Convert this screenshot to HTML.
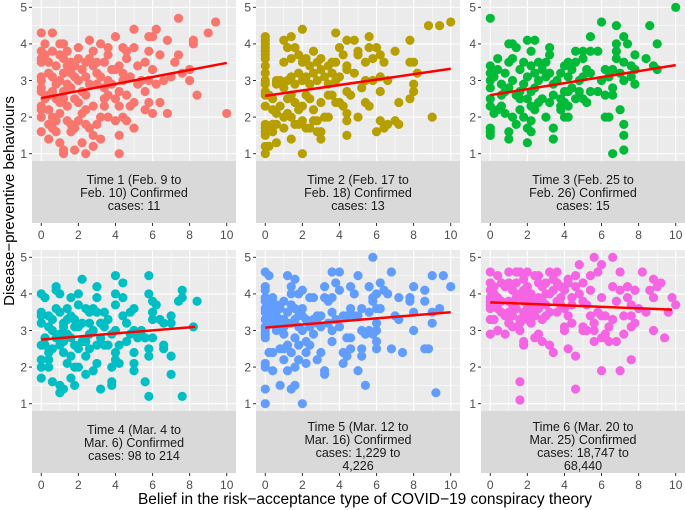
<!DOCTYPE html>
<html><head><meta charset="utf-8"><style>
html,body{margin:0;padding:0;background:#fff;}
svg{display:block;font-family:"Liberation Sans",sans-serif;}
</style></head><body>
<svg id="chart" width="685" height="510" viewBox="0 0 685 510" xmlns="http://www.w3.org/2000/svg">
<text x="0" y="0" transform="translate(14,201) rotate(-90)" text-anchor="middle" font-size="15" fill="#000">Disease−preventive behaviours</text>
<text x="365" y="504" text-anchor="middle" font-size="15.5" fill="#000">Belief in the risk−acceptance type of COVID−19 conspiracy theory</text>
</svg>
<script>
const xTicks=[0,2,4,6,8,10];
const yTicks=[1,2,3,4,5];
const colors=["#F8766D","#B79F00","#00BA38","#00BFC4","#619CFF","#F564E3"];
const stripLabels=[
["Time 1 (Feb. 9 to","Feb. 10) Confirmed","cases: 11"],
["Time 2 (Feb. 17 to","Feb. 18) Confirmed","cases: 13"],
["Time 3 (Feb. 25 to","Feb. 26) Confirmed","cases: 15"],
["Time 4 (Mar. 4 to","Mar. 6) Confirmed","cases: 98 to 214"],
["Time 5 (Mar. 12 to","Mar. 16) Confirmed","cases: 1,229 to","4,226"],
["Time 6 (Mar. 20 to","Mar. 25) Confirmed","cases: 18,747 to","68,440"]];
const fitStartX=[0,0,0,0,0,0];
const fitEndX=[10,10,10,8.3,10,9.8];
const fitStartY=[2.52,2.58,2.6,2.75,3.08,3.77];
const fitEndY=[3.48,3.32,3.42,3.1,3.5,3.57];
const time1=[[7.4,4.7],[9.4,4.6],[9,4.3],[0,4.3],[0.6,4.3],[5,4.4],[6.2,4.4],[5.8,4.2],[6,4.2],[4,4.2],[2.6,4.1],[6.8,4.1],[8.2,4.1],[8.2,4],[3.2,4],[1,4],[1.2,4],[2,3.9],[4.4,3.9],[5,3.9],[4.6,3.8],[5.8,3.8],[6.4,3.7],[7.4,3.7],[7.2,3.5],[5.6,3.5],[5.2,3.4],[8,3.3],[7.6,3.2],[8,3],[8.4,2.6],[10,2.1],[6.8,2.1],[6,2.1],[6.4,2.4],[5.8,2.4],[5,2.4],[5,1.7],[4.2,1.5],[4.2,1],[4,1.9],[4.6,1.9],[4.4,2],[3.6,2],[3.2,2],[3.2,1.4],[2.8,1.2],[2.8,1.5],[2.4,1],[2.2,1.3],[1.8,1.1],[1.2,1],[1.2,1.1],[1,1.3],[0.4,1.4],[0,1.6],[0,2],[0,2.2],[0,2.3],[0,2.7],[0,2.8],[0,3],[0,3.1],[0,3.5],[0,3.6],[0,3.8],[0.2,3.7],[0.4,3.5],[0.6,3.8],[0.8,3.4],[1,3.7],[1.2,3.6],[1.4,3.8],[1.6,3.5],[1.8,3.4],[2,3.6],[2.2,3.3],[2.4,3.5],[2.6,3.6],[2.8,3.4],[3,3.2],[3.4,3.5],[3.6,3.7],[3.8,3.3],[4,3.3],[4.4,3.2],[4.8,3.1],[5.4,3],[5.8,3],[6,3.3],[6.2,2.9],[6.6,3],[7,3.1],[2,3],[1,3],[1.4,2.9],[1.6,2.8],[2.2,2.7],[2.6,2.9],[3,2.9],[3.4,2.8],[3.8,2.9],[4.2,2.7],[4.6,2.6],[5.2,2.9],[5.6,2.7],[0.6,2.7],[0.8,2.5],[1,2.4],[1.2,2.5],[1.4,2.3],[1.8,2.5],[2,2.4],[2.4,2.6],[2.8,2.3],[3.4,2.3],[4,2.5],[4.2,2.3],[0.4,2.2],[0.6,2],[0.8,1.9],[1,2.1],[1.4,1.9],[1.6,1.8],[2,1.9],[2.4,1.8],[2.6,1.7],[3,1.8],[0.4,1.8],[0.6,1.7],[0.8,1.6],[1.6,1.6],[1.8,1.7],[2.2,2.1],[0.2,2.5],[0.4,2.6],[1.2,2.7],[1.8,3.1],[2.4,3.1],[3.2,3.1],[3.6,3],[4.4,3],[0.4,3.2],[0.6,3.1],[0.8,2.9],[1.2,3.2],[1.6,3.2],[2.8,3.8],[3.6,3.9],[1.4,3.4],[0.2,4],[2.4,2.2],[3.6,2.6],[4.8,2.3],[5.6,2.2],[4.6,3.6],[4.2,3.4],[3,3.5],[3.4,2.5]];
const time2=[[0,4.2],[0,4.1],[0,4],[0,3.9],[0,3.8],[0,3.7],[0,3.6],[0,3.4],[0,3.2],[0,3],[0,2.9],[0,2.7],[0,2.6],[0,2.3],[0,1.8],[0,1.7],[0,1.6],[0,1.5],[0,1.2],[0,1],[0.2,1.2],[0.4,1.6],[0.6,1.3],[0.4,1.8],[0.6,1.8],[0.4,2.2],[0.6,2.1],[0.8,2.3],[0.2,2.6],[0.4,2.5],[0.6,2.9],[0.8,3],[0.6,3],[1,1.7],[1,2],[1.2,2.1],[1.4,1.4],[1.4,2],[1.6,1.8],[1.8,1.8],[2,1.9],[2,1],[2.2,1.7],[2.4,1.7],[2.6,1.9],[2.8,1.6],[3,1.4],[3,1.6],[2.8,1.9],[3.2,2],[3.4,2],[1.2,2.5],[1.4,2.6],[1.6,2.4],[1.8,2.2],[2,2.3],[2.2,2.6],[2.4,2.5],[2.6,2.2],[3,2.4],[3.4,2.6],[3.6,2.6],[3.8,2.4],[4,2.4],[4.2,2.3],[4.4,2.1],[4.4,1.9],[4.4,1.5],[4.4,2.7],[4.6,2.6],[5,2],[5.4,2.4],[5.6,2.3],[5.2,2.8],[1,2.8],[1.2,3],[1.4,3.1],[1.6,2.9],[1.8,3.2],[2,3],[2.2,3.1],[2.4,2.9],[2.6,3.2],[2.8,3],[3,3.3],[3.2,3.1],[3.4,2.9],[3.6,3.2],[3.8,3],[4,3.1],[4.4,3.3],[4.8,3.2],[5.4,3],[5.8,3],[6.2,3.1],[6.6,3],[1,3.5],[1,4.1],[1.2,3.9],[1.4,4.2],[1.4,3.6],[1.6,3.9],[1.8,3.7],[2,4.4],[2,3.5],[2.2,3.6],[2.4,3.4],[2.6,3.8],[2.8,3.5],[3,3.6],[3.4,3.4],[3.6,3.5],[3.8,3.5],[3.8,4.3],[4,3.9],[4.2,3.7],[4.4,4.1],[4.4,3.4],[4.8,4.1],[5,3.7],[5,3.8],[5.6,3.9],[5.6,4.2],[5.4,3.5],[5.8,3.6],[6,3.9],[6.2,3.7],[6.4,3.5],[6.2,2.7],[6.2,1.9],[6,1.6],[6.4,1.7],[6.6,1.8],[7,1.9],[7.2,1.8],[7.2,2.4],[7,3.8],[7.8,4.1],[7.8,3.5],[8,3.5],[8,2.9],[8,2.7],[7.8,2.5],[8.2,3.2],[8.8,4.5],[9.4,4.5],[10,4.6],[9,2]];
const time3=[[0,4.7],[10,5],[6,4.6],[6.8,4.5],[8.6,4.5],[7.2,4.2],[5.4,4.2],[1,4],[1.2,4],[2,4.1],[2.4,4.1],[1.4,3.9],[2.2,3.8],[3.2,3.9],[3.2,3.7],[4.6,3.8],[5,3.8],[5.4,3.8],[5.8,3.8],[6.8,4],[6.8,3.8],[7.4,4],[9,4],[7.8,3.7],[8.4,3.6],[8.8,3.4],[9,3.3],[7.2,3.5],[7.6,3.4],[7.8,3.3],[6.8,3.6],[4.2,3.5],[4.6,3.5],[5,3.6],[5.2,3.3],[5.4,3.2],[6.2,3.3],[6.6,3.3],[6,3],[6.4,3.1],[7,3.2],[7.2,3],[7.6,3.1],[7.8,2.9],[6.6,2.8],[6.2,2.6],[6.6,2.6],[5.8,2.7],[5.4,2.7],[5,2.5],[5.2,2.4],[4.6,2.5],[4.8,2.7],[4.4,2.8],[4.2,2.7],[4,2.7],[3.8,2.5],[4,2.4],[3.8,2.3],[3.8,2.2],[4,2],[4.2,2],[3.4,1.7],[3.4,1.4],[3.2,2.4],[3.4,2.6],[3,2],[2.8,2.5],[2.6,2.4],[2.4,2.2],[2.2,1.9],[2,1.7],[2.2,1.6],[2,1.3],[1.8,2],[1.6,2.2],[1.4,1.8],[1.2,2],[1,1.6],[1,1.4],[0.8,2.1],[0.6,2.3],[0.4,2.2],[0.2,2.1],[0,2.3],[0,2.5],[0,1.5],[0,1.6],[0,1.7],[0,2.8],[0,3],[0,3.2],[0,3.4],[0.2,3.1],[0.4,3.3],[0.4,3.6],[0.6,2.9],[0.8,3.2],[0.8,2.7],[1,3.5],[1,2.8],[1.2,3.6],[1.2,3],[1.4,2.6],[1.6,3.3],[1.6,2.7],[1.8,3.5],[1.8,2.9],[2,3.1],[2,2.5],[2.2,3.4],[2.2,2.7],[2.4,3.2],[2.4,2.8],[2.6,3],[2.6,3.5],[2.8,3.3],[3,3.5],[3,3.1],[3.2,3.2],[3.4,2.9],[3.6,3],[3.8,3.2],[4,3.4],[4.2,3.1],[4.4,3.3],[4.8,3],[5,3.1],[6.2,2],[6.4,2],[7,2.2],[7.2,1.8],[7.2,1.5],[7.2,1.1],[6.6,1],[4.2,2.3],[2.2,2.3],[1.6,2.5],[0.6,2.6]];
const time4=[[0,4],[0.2,3.9],[0,3.5],[0,3.4],[0,3.2],[0,2.6],[0,2.2],[0,2],[0,1.7],[0.2,2.8],[0.4,2.4],[0.4,2],[0.6,1.6],[0.4,2.2],[0.6,3],[0.8,3.6],[0.8,4.2],[0.8,4.1],[1,4],[1,3.5],[1,2.6],[1,1.5],[1,1.3],[1.2,1.4],[1.2,2.4],[1.2,3.1],[1.4,3.6],[1.4,2.9],[1.4,2.1],[1.6,2.3],[1.6,1.7],[1.6,2.8],[1.6,3.9],[1.8,3.3],[1.8,2],[1.8,1.5],[2,4],[2,3.7],[2,2.5],[2,2],[2.2,4.4],[2.2,3.2],[2.2,2.7],[2.4,3.6],[2.4,2.3],[2.4,1.8],[2.6,3.5],[2.6,2.9],[2.8,3],[2.8,1.9],[3,4.2],[3,3.9],[3,3.5],[3,2.6],[3,2.1],[3.2,1.4],[3.2,2.8],[3.4,3.5],[3.4,3.1],[3.6,3.3],[3.6,2.6],[3.8,1.5],[3.8,1.6],[3.8,2],[3.8,2.9],[4,4.5],[4,4],[4,3.7],[4,3],[4,2.4],[4,2.2],[4.2,2.6],[4.2,2.1],[4.4,4.3],[4.4,3.9],[4.4,3.4],[4.6,3.2],[4.6,2.7],[4.8,3.5],[4.8,2.9],[5,3.6],[5,3],[5,2.4],[5,2.1],[5,1.9],[5.2,2.8],[5.4,3],[5.6,2.8],[5.8,4.5],[5.8,4],[5.8,2.5],[5.8,2.3],[5.8,1.2],[5.6,1.6],[6,3.8],[6,3.5],[6,3.3],[6,2.8],[6.2,3.7],[6.4,3.3],[6.6,3.2],[6.6,2.6],[6.6,2.5],[7,3.4],[7,3.2],[7,2.3],[7,1.8],[7.6,1.2],[7.4,3.8],[7.6,4.1],[7.6,3.9],[8.2,3.1],[8.4,3.8],[0.6,3.3],[0.4,3.4],[1.2,3.2],[1.4,3.3],[2.6,3.2],[2.8,3.6],[0.2,2.6],[0.8,2.8],[1.2,2.7],[1.8,3.1],[3.4,2.6],[0.6,2.5],[1,2.9],[1.6,3.4],[2,3.1],[2.4,2.7],[3.2,3.2],[0.4,3.1],[1.8,2.6],[2.6,2.5]];
const time5=[[0,4.6],[0.2,4.5],[0,4.2],[0,4.1],[0,3.9],[0,3.8],[0,3.6],[0,3.5],[0,3.3],[0,3.1],[0,3],[0,2.9],[0,2.8],[0,2.1],[0,2],[0,1.4],[0,1],[0.2,3.7],[0.4,3.6],[0.4,3.2],[0.2,2.4],[0.4,2.4],[0.4,1.9],[0.6,3.4],[0.6,3],[0.8,3.6],[0.8,2.5],[0.8,1.5],[1,3.8],[1,3.3],[1,2.9],[1,2.5],[1,2.2],[1.2,4.5],[1.2,3.5],[1.2,2.6],[1.2,1.9],[1.4,4.2],[1.4,4],[1.4,3.7],[1.4,3.2],[1.4,2.4],[1.4,1.4],[1.6,4.4],[1.6,3.6],[1.6,2.8],[1.6,2],[1.6,1.5],[1.8,4],[1.8,3.4],[1.8,2.6],[1.8,2.2],[2,4.1],[2,3.6],[2,3],[2,1],[2.2,3.3],[2.2,2.7],[2.2,2.4],[2.2,2.1],[2.4,3.9],[2.4,3.1],[2.4,2.6],[2.6,3.9],[2.6,2.9],[2.8,3.4],[2.8,2.2],[3,3.4],[3,2.4],[3.2,4.2],[3.2,3.9],[3.2,1.8],[3.2,1.9],[3.4,3.8],[3.4,3.2],[3.6,4.6],[3.6,3.9],[3.6,3.5],[3.6,3],[3.6,2.7],[3.8,4.3],[3.8,3.3],[4,4.6],[4,4.1],[4,3.1],[4.2,3.4],[4.2,2.4],[4.2,2.1],[4.4,2.8],[4.4,2.3],[4.6,4.2],[4.6,3.6],[4.6,2.8],[4.6,2.5],[4.8,4],[4.8,3.4],[5,3.4],[5,1.9],[5,4.5],[5.2,3.6],[5.2,3],[5.2,2.5],[5.2,2.3],[5.4,2.9],[5.4,1.5],[5.6,4.2],[5.6,3.5],[5.6,3],[5.8,5],[5.8,3.8],[5.8,2.9],[5.8,3.9],[6,4],[6,3.6],[6,3.2],[6,2.7],[6,2.5],[6,3],[6.2,3.6],[6.2,4.3],[6.4,4.1],[6.6,4],[6.8,4.6],[6.8,2.5],[7,3.4],[7.2,3.9],[7.2,3.3],[7.4,2.4],[7.8,3.9],[7.8,3.8],[8,4.2],[8,3.5],[8,3],[8.6,4.1],[8.6,3.8],[8.6,2.5],[8.8,2.5],[9,4.5],[9,3.5],[9,3.2],[9.2,1.3],[9.4,3.6],[9.6,4.5],[10,4.2],[0.6,3.1],[1,3.1],[1.8,3.1],[2.6,3.3],[3,3.1],[4.4,3.4],[0.8,3.3],[0.4,3.9],[0.2,3.4],[0.6,3.7],[1.2,3.2],[1.6,3.3],[2,3.4],[2.8,3.2]];
const time6=[[0,4.6],[0,4.3],[0,4.1],[0,3.9],[0,3.8],[0,3.7],[0,3.6],[0,3.3],[0,2.9],[0.2,4.2],[0.2,3.3],[0.2,3.7],[0.4,4.5],[0.4,3.9],[0.4,3],[0.6,4.3],[0.6,3.5],[0.8,4.2],[0.8,3.4],[0.8,2.9],[1,4.6],[1,4.3],[1,3.8],[1,3.2],[1.2,4.1],[1.2,3.7],[1.2,3.1],[1.4,4.6],[1.4,4.3],[1.4,3.6],[1.6,4.6],[1.6,4],[1.6,3.3],[1.6,3.2],[1.6,3],[1.6,1.6],[1.6,1.1],[1.8,4.4],[1.8,3.8],[1.8,3.5],[1.8,2.7],[1.8,2.6],[2,4.6],[2,4.2],[2,3.9],[2,3.3],[2.2,4],[2.2,3.5],[2.2,3.2],[2.4,4.5],[2.4,3.7],[2.4,3.4],[2.4,2.8],[2.6,4.5],[2.6,4.3],[2.6,3.9],[2.6,2.9],[2.8,4.2],[2.8,3.8],[2.8,3.3],[2.8,2.7],[3,4],[3,3.7],[3.2,4.6],[3.2,3.5],[3.2,2.6],[3.4,4.4],[3.4,4.1],[3.4,2.4],[3.6,4.6],[3.6,4.3],[3.6,3.8],[3.6,3.5],[3.8,4.2],[3.8,3.9],[4,4.1],[4,3.6],[4,3.1],[4,3],[4.2,4.4],[4.2,4.3],[4.2,3.4],[4.2,2.5],[4.4,3.9],[4.4,3.2],[4.6,4.5],[4.6,4.2],[4.6,2.3],[4.6,1.4],[4.8,4.8],[4.8,4],[5,4.3],[5,3.8],[5,3.1],[5,3],[5.2,3.7],[5.2,3],[5.4,4.5],[5.4,4.1],[5.4,3.4],[5.6,5],[5.6,3.2],[5.6,2.7],[5.6,3],[5.8,4.6],[5.8,3.5],[6,4.8],[6,3.9],[6,3.4],[6,2.8],[6,1.9],[6.2,3.4],[6.2,2.9],[6.2,2.8],[6.4,3.1],[6.4,2.7],[6.6,5],[6.6,4.2],[6.6,3.3],[6.8,3.8],[6.8,2.7],[7,4.6],[7,4.1],[7,1.9],[7.2,3.4],[7.2,2.9],[7.4,4.2],[7.4,3.9],[7.6,3.7],[7.6,3.4],[7.6,3.1],[7.6,2.2],[7.8,4.1],[7.8,3.2],[8,3.6],[8.2,4.6],[8.6,4.1],[8.4,3.5],[8.8,4.4],[8.8,3.9],[8.8,3],[9,4.2],[9.2,4.3],[9.4,2.8],[9.6,3.5],[9.8,3.9],[10,3.7],[0.4,3.6],[1,3.5],[1.4,3.9],[2,3.6],[2.6,3.6],[3,4.3],[3.2,4],[3.8,3.7],[4.4,3.7],[0.2,4],[0.6,3.8],[1.2,3.4],[1.8,4.1],[2.2,3.8],[3,3.4]];
const series=[time1,time2,time3,time4,time5,time6];

const NS="http://www.w3.org/2000/svg";
const svg=document.getElementById('chart');
const colLeft=[32,256,481], rowTop=[0,250], PW=204, PH=161, STRIP=62;
function mk(tag,attrs,parent){const e=document.createElementNS(NS,tag);for(const k in attrs)e.setAttribute(k,attrs[k]);(parent||svg).appendChild(e);return e;}
for(let p=0;p<6;p++){
  const L=colLeft[p%3], T=rowTop[Math.floor(p/3)];
  const sx=v=>L+(v+0.5)/11*PW;
  const sy=v=>T+(5.2-v)/4.4*PH;
  const g=mk('g',{});
  
  
  const bg=mk('rect',{x:L,y:T,width:PW,height:PH,fill:'#EBEBEB'},g);
  
  
  for(let v=1;v<=9;v+=2){mk('line',{x1:sx(v),x2:sx(v),y1:T,y2:T+PH,stroke:'#fff','stroke-width':0.5},g);}
  for(let v=1.5;v<=4.5;v+=1){mk('line',{x1:L,x2:L+PW,y1:sy(v),y2:sy(v),stroke:'#fff','stroke-width':0.5},g);}
  xTicks.forEach(v=>{mk('line',{x1:sx(v),x2:sx(v),y1:T,y2:T+PH,stroke:'#fff','stroke-width':1.1},g);});
  yTicks.forEach(v=>{mk('line',{x1:L,x2:L+PW,y1:sy(v),y2:sy(v),stroke:'#fff','stroke-width':1.1},g);
    mk('line',{x1:L-3,x2:L,y1:sy(v),y2:sy(v),stroke:'#333','stroke-width':1},g);
    const t=mk('text',{x:L-5,y:sy(v)+4.3,'text-anchor':'end','font-size':12,fill:'#4D4D4D'},g);t.textContent=v;
    
    
  });
  series[p].forEach(d=>{const c=mk('circle',{cx:sx(d[0]),cy:sy(d[1]),r:4.6,fill:colors[p]},g);
    
    });
  const fl=mk('line',{x1:sx(fitStartX[p]),y1:sy(fitStartY[p]),x2:sx(fitEndX[p]),y2:sy(fitEndY[p]),stroke:'#FF0000','stroke-width':2.5},g);
  
  
  const st=mk('rect',{x:L,y:T+PH,width:PW,height:STRIP,fill:'#D9D9D9'},g);
  
  
  const lines=stripLabels[p];
  const y0=lines.length===4?T+PH+20:T+PH+23;
  lines.forEach((s,i)=>{const t=mk('text',{x:L+PW/2,y:y0+i*13,'text-anchor':'middle','font-size':12.5,fill:'#1A1A1A'},g);t.textContent=s;
    
    });
  const by=T+PH+STRIP;
  xTicks.forEach(v=>{mk('line',{x1:sx(v),x2:sx(v),y1:by,y2:by+3,stroke:'#333','stroke-width':1},g);
    const t=mk('text',{x:sx(v),y:by+16,'text-anchor':'middle','font-size':12,fill:'#4D4D4D'},g);t.textContent=v;
    
    });
}
</script>
</body></html>
